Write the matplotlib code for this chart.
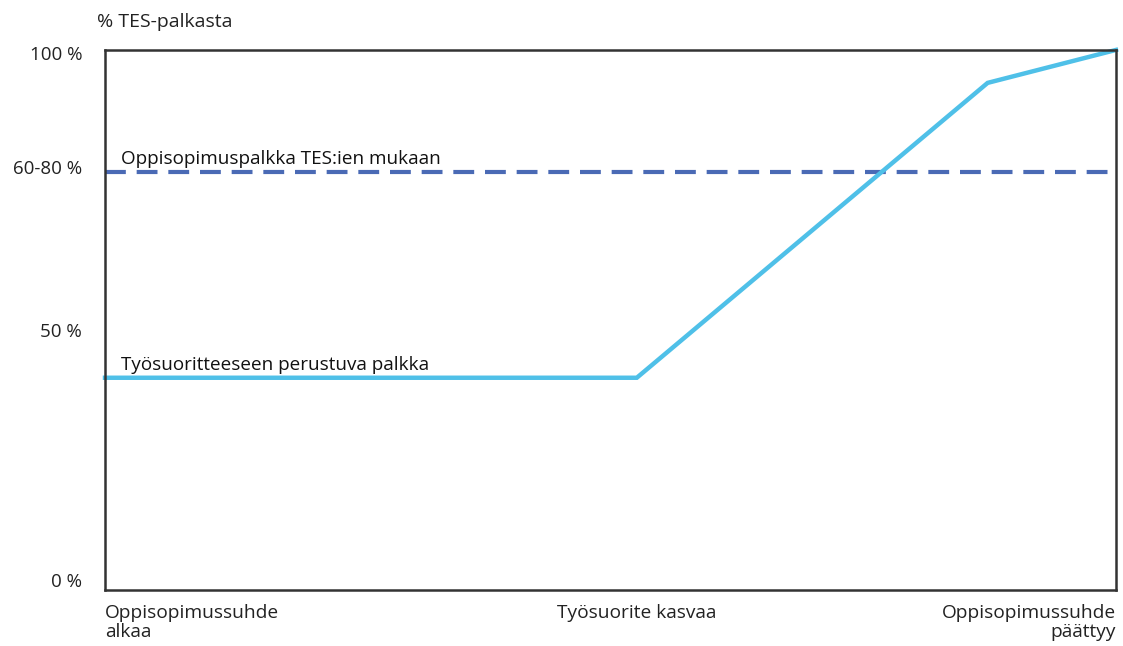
import matplotlib.pyplot as plt

# data (x: 0..100 along the apprenticeship, y: relative position on the axis)
palkka_x = [0, 52.6, 87.3, 100]
palkka_y = [39.3, 39.3, 93.9, 100]
tes_x = [0, 99.2]
tes_y = [77.4, 77.4]

y_ticks = [99.4, 78.3, 48.1, 1.9]
y_labels = ["100 %", "60-80 %", "50 %", "0 %"]
x_ticks = [0, 52.6, 100]
x_labels = ["Oppisopimussuhde\nalkaa", "Työsuorite kasvaa", "Oppisopimussuhde\npäättyy"]

plt.rcParams['font.family'] = ['Open Sans', 'DejaVu Sans']

fig = plt.figure(figsize=(11.23, 6.46), dpi=100)
ax = fig.add_axes([0.0935, 0.0867, 0.9003, 0.836])

ax.plot(tes_x, tes_y, color='#4a6ab5', lw=3, dashes=(5, 2.6), solid_capstyle='butt')
ax.plot(palkka_x, palkka_y, color='#4fc0e8', lw=3.2, solid_joinstyle='miter', clip_on=False)

ax.text(1.6, tes_y[0] + 1.4, "Oppisopimuspalkka TES:ien mukaan", fontsize=13.6, color='#111111')
ax.text(1.6, palkka_y[0] + 1.4, "Työsuoritteeseen perustuva palkka", fontsize=13.6, color='#111111')

ax.set_xlim(0, 100)
ax.set_ylim(0, 100)
ax.set_yticks(y_ticks)
ax.set_yticklabels(y_labels, fontsize=13.5, color='#222222')
ax.set_xticks(x_ticks)
ax.set_xticklabels(x_labels, fontsize=13.8, color='#222222', linespacing=1.05, va='top')
ax.tick_params(axis='y', length=0, pad=16.5)
ax.tick_params(axis='x', length=0, pad=10)
labs = ax.get_xticklabels()
labs[0].set_ha('left')
labs[0].set_x(-0.8)
labs[2].set_ha('right')
labs[2].set_multialignment('right')

for s in ax.spines.values():
    s.set_color('#333333')
    s.set_linewidth(1.8)

fig.text(97 / 1123, 1 - 22 / 646, "% TES-palkasta", fontsize=14, color='#222222', va='center')

fig.savefig("out.png", dpi=100)
